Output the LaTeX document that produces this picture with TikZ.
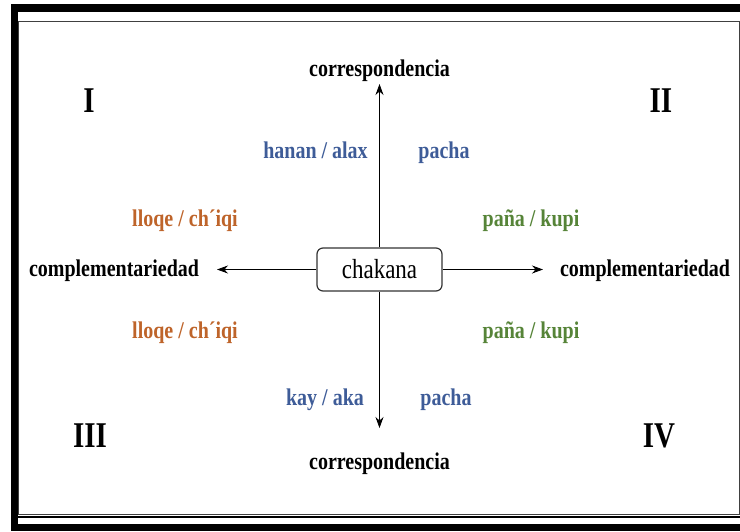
\documentclass[tikz,border=0pt]{standalone}
\usepackage{fontspec}
\setmainfont{Liberation Serif}
\usetikzlibrary{arrows.meta}
\definecolor{hanancolor}{RGB}{62,92,152}
\definecolor{lloqecolor}{RGB}{190,100,42}
\definecolor{panacolor}{RGB}{86,132,56}
\newcommand{\tall}[1]{\scalebox{1}[1.2]{#1}}

\begin{document}
\begin{tikzpicture}[x=1pt,y=-1pt,>={Stealth[length=11pt,width=8pt]},
	lbl/.style={font=\fontsize{20}{24}\selectfont\bfseries,anchor=base,inner sep=0pt},
	quad/.style={font=\fontsize{29}{34}\selectfont\bfseries,anchor=base,inner sep=0pt},
	centre/.style={draw=black!80,line width=1.2pt,rounded corners=6pt,fill=white,
		minimum width=125pt,minimum height=43pt,inner sep=0pt,font=\fontsize{23}{26}\selectfont}]
	\useasboundingbox (0,0) rectangle (740,531);
	% frame
	\fill (11,4) rectangle (740,12);
	\fill (11,4) rectangle (18,531);
	\fill (11,524) rectangle (740,531);
	\draw[line width=1.5pt] (18,517) -- (740,517);
	\draw[line width=0.8pt,black!75] (18,21.5) rectangle (739,514.5);

	\node[centre] (chakana) at (379.5,269.5) {\raisebox{-2pt}{\tall{chakana}}};

	% axes
	\coordinate (tipN) at (379.5,84);
	\coordinate (tipS) at (379.5,428);
	\coordinate (tipW) at (217,269.5);
	\coordinate (tipE) at (543,269.5);
	\draw[->,line width=0.9pt] (chakana.north) -- (tipN);
	\draw[->,line width=0.9pt] (chakana.south) -- (tipS);
	\draw[->,line width=0.9pt] (chakana.west) -- (tipW);
	\draw[->,line width=0.9pt] (chakana.east) -- (tipE);

	\node[lbl] (corrtop) at (379.5,76) {\tall{correspondencia}};
	\node[lbl] (corrbot) at (379.5,469) {\tall{correspondencia}};
	\node[lbl] (compleft) at (114,276) {\tall{complementariedad}};
	\node[lbl] (compright) at (645,276) {\tall{complementariedad}};

	\node[lbl,hanancolor] (hanan) at (315.5,158) {\tall{hanan / alax}};
	\node[lbl,hanancolor] (pachatop) at (444,158) {\tall{pacha}};
	\node[lbl,hanancolor] (kay) at (325,405) {\tall{kay / aka}};
	\node[lbl,hanancolor] (pachabot) at (446,405) {\tall{pacha}};

	\node[lbl,lloqecolor] (lloqetop) at (185,226) {\tall{lloqe / ch´iqi}};
	\node[lbl,lloqecolor] (lloqebot) at (185,338) {\tall{lloqe / ch´iqi}};
	\node[lbl,panacolor] (panatop) at (531,226) {\tall{paña / kupi}};
	\node[lbl,panacolor] (panabot) at (531,338) {\tall{paña / kupi}};

	% quadrants
	\node[quad] (qI) at (89,112) {\scalebox{1}[1.25]{I}};
	\node[quad] (qII) at (661,112) {\scalebox{1}[1.25]{II}};
	\node[quad] (qIII) at (90,447) {\scalebox{1}[1.25]{III}};
	\node[quad] (qIV) at (659,447) {\scalebox{1}[1.25]{IV}};
\end{tikzpicture}
\end{document}
